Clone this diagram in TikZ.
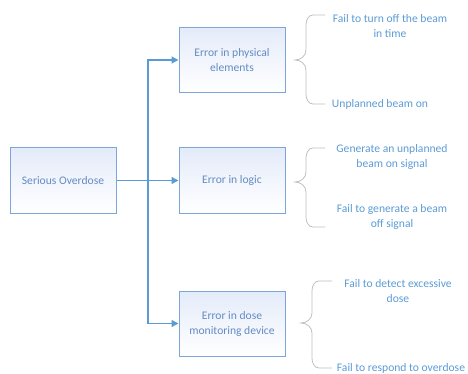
\documentclass[tikz,border=0pt]{standalone}
\usepackage{fontspec}
\setmainfont{Carlito}
\usetikzlibrary{arrows.meta}

\definecolor{linkblue}{RGB}{91,155,213}
\definecolor{boxline}{RGB}{125,165,215}
\definecolor{boxtext}{RGB}{100,140,195}
\definecolor{boxtop}{RGB}{228,235,249}
\definecolor{bracegray}{RGB}{191,191,191}

\tikzset{
    cause/.style={draw=boxline, line width=1pt, top color=boxtop, bottom color=white,
        minimum width=106pt, minimum height=65pt, align=center,
        text=boxtext, font=\fontsize{11.6}{15}\selectfont},
    mode/.style={text=linkblue, align=center, inner sep=0pt,
        font=\fontsize{11.6}{15}\selectfont},
    link/.style={draw=linkblue, line width=1.3pt},
    tip/.style={-{Triangle[length=7pt,width=7pt]}},
}

\begin{document}
\begin{tikzpicture}[x=1pt, y=-1pt]
\useasboundingbox (0,0) rectangle (468,374);

\node (overdose) at (63,180.5) [cause] {Serious Overdose};
\node (physical) at (232,60) [cause] {Error in physical\\elements};
\node (logic) at (232,180.5) [cause] {Error in logic};
\node (dose) at (232,323.5) [cause] {Error in dose\\monitoring device};

\coordinate (split) at (148,180.5);

\draw[link, tip] (overdose) -- (logic);
\draw[link, tip] (split) |- (physical.west);
\draw[link, tip] (split) |- (dose.west);

% failure modes
\node (turnoff) at (390,26.5) [mode] {Fail to turn off the beam\\in time};
\node (beamon) at (380,104) [mode] {Unplanned beam on};
\node (gensignal) at (392,157) [mode] {Generate an unplanned\\beam on signal};
\node (offsignal) at (392,217) [mode] {Fail to generate a beam\\off signal};
\node (detect) at (398,291) [mode] {Fail to detect excessive\\dose};
\node (respond) at (401,368) [mode] {Fail to respond to overdose};

% braces
\foreach \tx/\ty/\ya/\yb/\rx in {295/60/15/104/325, 295/182/148/227/325, 301/323/281/368/332} {%
    \draw[bracegray, line width=0.8pt]
        (\rx,\ya) -- ({\tx+18},\ya)
        to[out=180,in=90] ({\tx+11},{\ya+10})
        -- ({\tx+11},{\ty-10})
        to[out=-90,in=0] (\tx,\ty)
        to[out=0,in=90] ({\tx+11},{\ty+10})
        -- ({\tx+11},{\yb-10})
        to[out=-90,in=180] ({\tx+18},\yb)
        -- (\rx,\yb);
}
\end{tikzpicture}
\end{document}
